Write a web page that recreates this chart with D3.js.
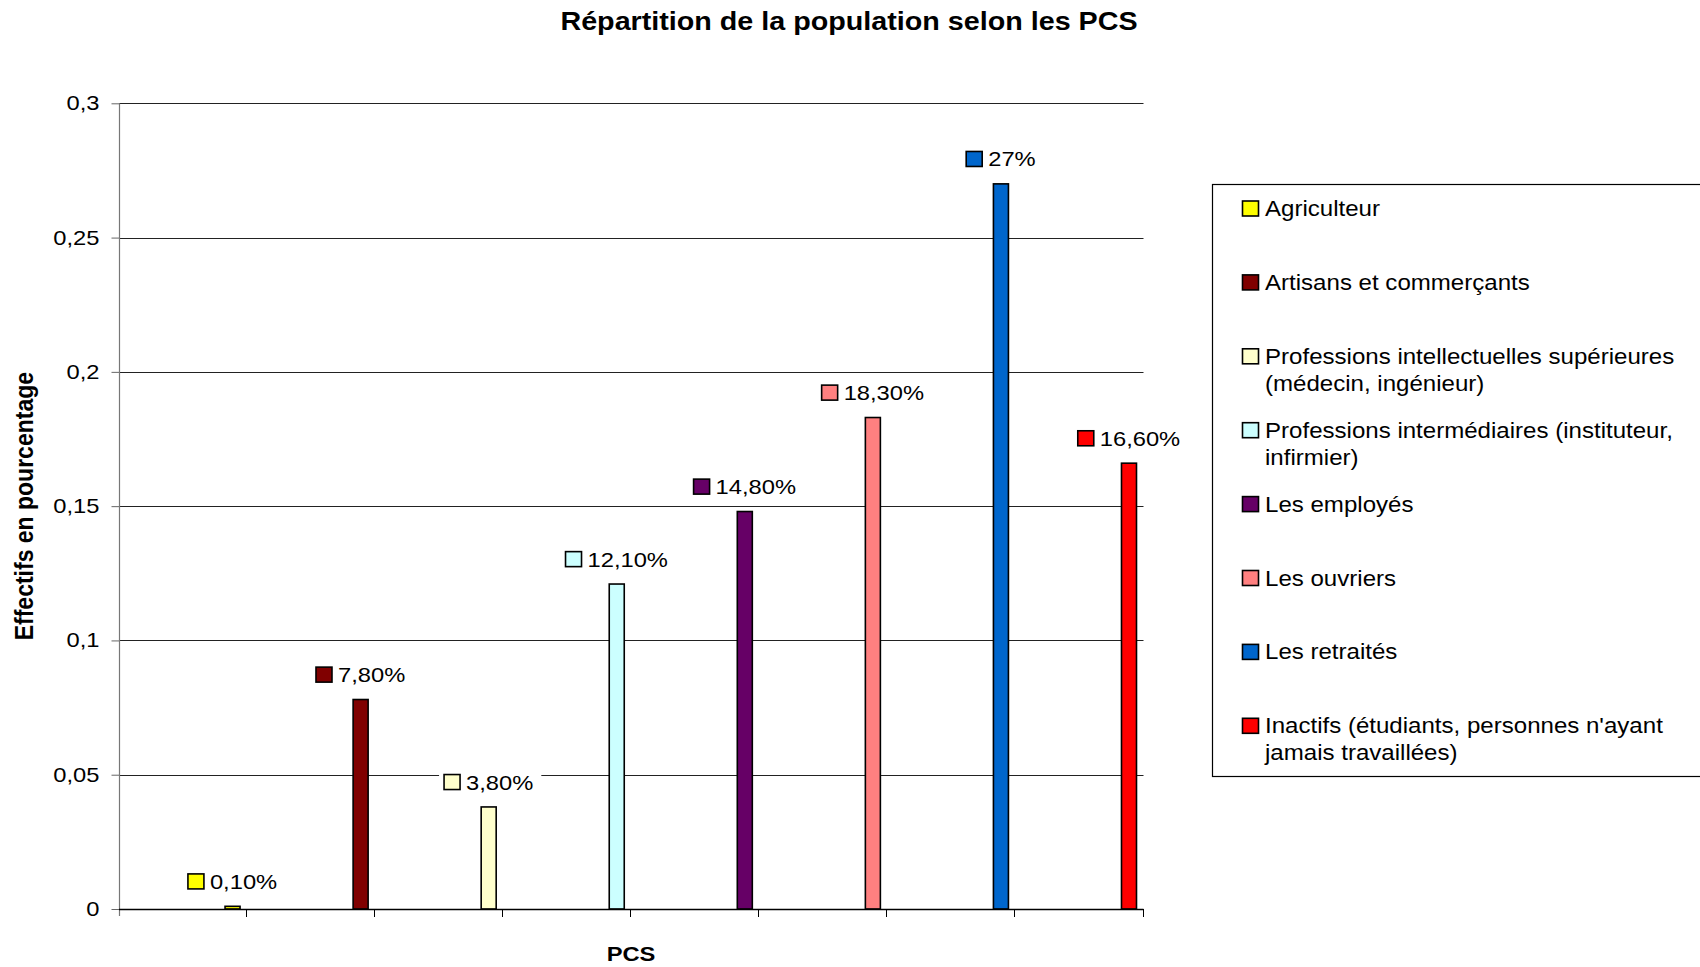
<!DOCTYPE html>
<html>
<head>
<meta charset="utf-8">
<script src="https://cdn.jsdelivr.net/npm/d3@7/dist/d3.min.js"></script>
<style>
  html, body { margin: 0; padding: 0; background: #fff; }
  svg { display: block; }
  text { font-family: "Liberation Sans", Arial, sans-serif; fill: #000; }
</style>
</head>
<body>
<svg id="chart" width="1700" height="967"></svg>
<script>
const chartTitle = "Répartition de la population selon les PCS";
const xTitle = "PCS";
const yTitle = "Effectifs en pourcentage";
const categories = [
  "Agriculteur",
  "Artisans et commerçants",
  "Professions intellectuelles supérieures (médecin, ingénieur)",
  "Professions intermédiaires (instituteur, infirmier)",
  "Les employés",
  "Les ouvriers",
  "Les retraités",
  "Inactifs (étudiants, personnes n'ayant jamais travaillées)"
];
const values = [0.001, 0.078, 0.038, 0.121, 0.148, 0.183, 0.27, 0.166];
const valueLabels = ["0,10%", "7,80%", "3,80%", "12,10%", "14,80%", "18,30%", "27%", "16,60%"];
const colors = ["#FFFF00", "#800000", "#FFFFCC", "#CCFFFF", "#660066", "#FF8080", "#0066CC", "#FF0000"];
const yTicks = [0, 0.05, 0.1, 0.15, 0.2, 0.25, 0.3];
const yTickLabels = ["0", "0,05", "0,1", "0,15", "0,2", "0,25", "0,3"];

const SX = 1.13; // horizontal stretch of the original rendering
const svg = d3.select("#chart");

const plot = { left: 119, right: 1143.5, top: 103.3, bottom: 909 };
const x = d3.scaleBand().domain(categories).range([plot.left, plot.right]).padding(0);
const y = d3.scaleLinear().domain([0, 0.3]).range([plot.bottom, plot.top]);
const bw = x.bandwidth();
const barOff = bw * 106 / 128, barW = bw * 15 / 128;

function sText(g, str, px, py, size, opts = {}) {
  const t = g.append("text")
    .attr("transform", `translate(${px},${py}) scale(${SX},1)`)
    .attr("font-size", size)
    .attr("text-anchor", opts.anchor || "start")
    .attr("font-weight", opts.bold ? "bold" : "normal")
    .text(str);
  return t;
}

// Title
sText(svg, chartTitle, 849, 30, 25.4, { anchor: "middle", bold: true });

// Gridlines
const grid = svg.append("g");
yTicks.filter(t => t > 0).forEach(t => {
  const yy = Math.round(y(t)) + 0.5;
  grid.append("line").attr("x1", plot.left).attr("x2", plot.right)
    .attr("y1", yy).attr("y2", yy).attr("stroke", "#222").attr("stroke-width", 1);
});

// Y axis
const yAxis = svg.append("g").attr("transform", `translate(${plot.left + 0.5},0)`)
  .call(d3.axisLeft(y).tickValues(yTicks).tickFormat((d, i) => yTickLabels[i]).tickSize(8).tickSizeOuter(0));
yAxis.select(".domain").remove();
yAxis.selectAll(".tick line").attr("stroke", "#666");
yAxis.selectAll(".tick text")
  .attr("x", null).attr("dy", null).attr("y", 6.5)
  .attr("font-family", "'Liberation Sans', Arial, sans-serif")
  .attr("font-size", 21)
  .attr("fill", "#000")
  .attr("text-anchor", "end")
  .attr("transform", `translate(-20,0) scale(${SX},1)`);
svg.append("line").attr("x1", plot.left + 0.5).attr("x2", plot.left + 0.5)
  .attr("y1", plot.top).attr("y2", plot.bottom + 7).attr("stroke", "#777").attr("stroke-width", 1.2);

// Bars
svg.append("g").selectAll("rect").data(categories).join("rect")
  .attr("x", d => x(d) + barOff)
  .attr("y", (d, i) => y(values[i]))
  .attr("width", barW)
  .attr("height", (d, i) => plot.bottom - y(values[i]))
  .attr("fill", (d, i) => colors[i])
  .attr("stroke", "#000").attr("stroke-width", 1.6);

// X axis
const xa = svg.append("g");
xa.append("line").attr("x1", plot.left).attr("x2", plot.right)
  .attr("y1", plot.bottom + 0.5).attr("y2", plot.bottom + 0.5).attr("stroke", "#000").attr("stroke-width", 1.3);
const bounds = categories.map(c => x(c)).concat([plot.right]);
xa.selectAll("line.tk").data(bounds.slice(1)).join("line").attr("class", "tk")
  .attr("x1", d => Math.round(d) - 0.5).attr("x2", d => Math.round(d) - 0.5)
  .attr("y1", plot.bottom).attr("y2", plot.bottom + 8).attr("stroke", "#000").attr("stroke-width", 1);

// Value labels
const lab = svg.append("g");
categories.forEach((c, i) => {
  const cx = x(c) + barOff + barW / 2;
  const base = y(values[i]) - 17.4;
  const g = lab.append("g");
  const box = g.append("rect").attr("fill", "#fff");
  const t = sText(g, valueLabels[i], 0, base, 21);
  const tw = t.node().getComputedTextLength() * SX;
  const total = 16 + 6 + tw;
  const gx = cx - total / 2;
  t.attr("transform", `translate(${gx + 22},${base}) scale(${SX},1)`);
  box.attr("x", gx - 5).attr("y", base - 21).attr("width", total + 13).attr("height", 27);
  g.append("rect").attr("x", gx).attr("y", base - 15).attr("width", 16).attr("height", 15)
    .attr("fill", colors[i]).attr("stroke", "#000").attr("stroke-width", 1.6);
});

// Axis titles
sText(svg, xTitle, 631, 961, 21, { anchor: "middle", bold: true });
svg.append("text")
  .attr("transform", `translate(33,${(plot.top + plot.bottom) / 2}) rotate(-90) scale(1,${SX})`)
  .attr("font-size", 23).attr("font-weight", "bold").attr("text-anchor", "middle")
  .text(yTitle);

// Legend
const leg = svg.append("g");
leg.append("rect").attr("x", 1212.5).attr("y", 184.5).attr("width", 600).attr("height", 592)
  .attr("fill", "#fff").attr("stroke", "#000").attr("stroke-width", 1.2);
const legBase0 = 216, legStep = 73.9, lineH = 27;
const maxW = 440;
categories.forEach((c, i) => {
  const base = legBase0 + i * legStep;
  leg.append("rect").attr("x", 1242.5).attr("y", base - 15).attr("width", 16).attr("height", 15)
    .attr("fill", colors[i]).attr("stroke", "#000").attr("stroke-width", 1.6);
  const words = c.split(" ");
  const lines = [];
  let cur = "";
  const probe = sText(leg, "", 0, -100, 21.3);
  words.forEach(w => {
    const test = cur ? cur + " " + w : w;
    probe.text(test);
    if (probe.node().getComputedTextLength() * SX > maxW && cur) { lines.push(cur); cur = w; }
    else cur = test;
  });
  lines.push(cur);
  probe.remove();
  lines.forEach((ln, j) => sText(leg, ln, 1265, base + j * lineH, 21.3));
});
</script>
</body>
</html>
